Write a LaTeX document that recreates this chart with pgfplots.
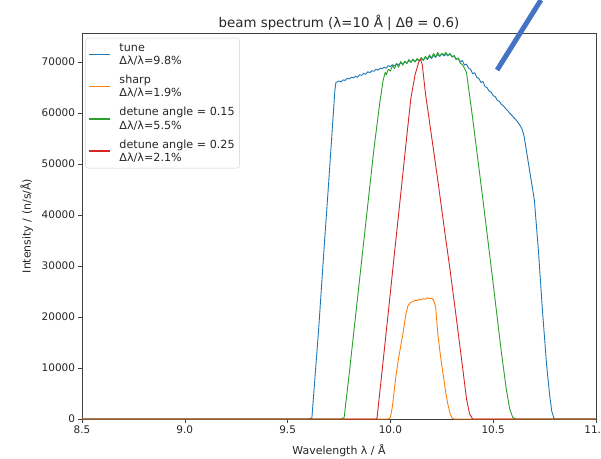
\documentclass[border=0pt]{standalone}
\usepackage{fontspec}
\setmainfont{DejaVu Sans}
\usepackage{pgfplots}
\pgfplotsset{compat=1.18}
\definecolor{tabblue}{HTML}{1F77B4}
\definecolor{taborange}{HTML}{FF7F0E}
\definecolor{tabgreen}{HTML}{2CA02C}
\definecolor{tabred}{HTML}{D62728}
\definecolor{annot}{HTML}{4472C4}
\begin{document}
\begin{tikzpicture}
\begin{axis}[
  at={(0bp,0bp)}, anchor=south west,
  scale only axis, width=514bp, height=386bp,
  xmin=8.5, xmax=11.0, ymin=0, ymax=75700,
  xtick={8.5,9.0,9.5,10.0,10.5,11.0},
  ytick={0,10000,20000,30000,40000,50000,60000,70000},
  xticklabel style={/pgf/number format/.cd,fixed,fixed zerofill,precision=1},
  yticklabel style={/pgf/number format/.cd,fixed,1000 sep={}},
  scaled ticks=false,
  /pgf/number format/assume math mode=true,
  tick align=outside, xtick pos=lower, ytick pos=left,
  major tick length=3.5bp,
  tick style={black!75, line width=0.6bp},
  axis line style={black!75, line width=0.7bp},
  ticklabel style={font=\fontsize{10.5}{12}\selectfont, text=black!85},
  label style={font=\fontsize{11}{13}\selectfont, text=black!85},
  xlabel={Wavelength λ / Å},
  xlabel style={yshift=-4bp},
  ylabel={Intensity / (n/s/Å)},
  ylabel style={yshift=2bp},
  title={beam spectrum (λ=10 Å | Δθ = 0.6)},
  title style={font=\fontsize{13.4}{15}\selectfont, text=black!85, yshift=-7bp},
  clip=false,
  legend cell align=left,
  legend style={at={(0,1)}, anchor=north west, xshift=3.5bp, yshift=-5bp,
    draw=black!18, rounded corners=2.5bp, fill=white, text=black!85,
    font=\fontsize{11.2}{13.5}\selectfont,
    cells={align=left}, row sep=5bp, inner sep=3bp},
  legend image code/.code={\draw[#1, line width=1.6bp] (0bp,0.25bp) -- (21bp,0.25bp); \path[draw=none,fill=none] (21bp,0bp) -- (28bp,0bp);},
  every axis plot/.append style={line width=0.9bp, line join=round},
]
\addplot[tabblue] coordinates {
(8.50,0) (9.60,0) (9.618,200) (9.65,17000) (9.68,35000) (9.70,46500) (9.72,58500)
(9.73,64500) (9.735,66000) (9.75,66300) (9.76,66100) (9.77,66500) (9.78,66400)
(9.79,66800) (9.80,66700) (9.81,67000) (9.82,66900) (9.83,67200) (9.84,67000)
(9.85,67500) (9.86,67400) (9.87,67800) (9.88,67600) (9.89,68100) (9.90,67900)
(9.91,68300) (9.92,68200) (9.93,68600) (9.94,68400) (9.95,68800) (9.96,68700)
(9.97,69000) (9.98,68800) (9.99,69300) (10.00,69100) (10.01,69500) (10.02,69200)
(10.03,69700) (10.04,69400) (10.05,69900) (10.06,69600) (10.07,70000) (10.08,69800)
(10.09,70300) (10.10,70000) (10.11,70400) (10.12,70100) (10.13,70500) (10.14,70300)
(10.15,70600) (10.16,70400) (10.17,70900) (10.18,70500) (10.19,71100) (10.20,70700)
(10.21,71300) (10.22,70900) (10.23,71500) (10.24,71100) (10.25,71600) (10.26,71200)
(10.27,71500) (10.28,71300) (10.29,71600) (10.30,71000) (10.31,71200) (10.32,70500)
(10.33,70800) (10.34,70000) (10.35,70300) (10.36,69400) (10.37,69600) (10.38,68800)
(10.39,68600) (10.40,67700) (10.41,67900) (10.42,67000) (10.43,66800) (10.44,66000)
(10.45,66200) (10.46,65200) (10.47,65000) (10.48,64300) (10.49,64100) (10.50,63400)
(10.51,63200) (10.52,62500) (10.53,62300) (10.54,61700) (10.55,61400) (10.56,60900)
(10.57,60500) (10.58,60000) (10.59,59600) (10.60,59100) (10.61,58700) (10.62,58200)
(10.63,57600) (10.64,56900) (10.65,55500) (10.66,53000) (10.67,50500) (10.68,48000)
(10.70,43000) (10.72,33000) (10.74,21000) (10.76,10500) (10.775,4500) (10.785,1500)
(10.795,200) (10.80,0) (11.00,0)
};
\addlegendentry{tune\\Δλ/λ=9.8\%}
\addplot[taborange] coordinates {
(8.50,0) (9.99,0) (10.00,300) (10.01,2500) (10.025,7800) (10.04,12000) (10.06,16500)
(10.075,20500) (10.085,22200) (10.10,22900) (10.11,23000) (10.12,23300) (10.13,23200)
(10.14,23500) (10.15,23400) (10.16,23600) (10.17,23500) (10.18,23800) (10.19,23600)
(10.20,23700) (10.21,23300) (10.22,22000) (10.23,17000) (10.24,13500) (10.25,10500)
(10.26,7800) (10.27,5000) (10.28,2800) (10.29,1100) (10.30,200) (10.31,0) (11.00,0)
};
\addlegendentry{sharp\\Δλ/λ=1.9\%}
\addplot[tabgreen] coordinates {
(8.50,0) (9.76,0) (9.775,300) (9.80,9000) (9.83,20000) (9.86,31000) (9.89,42000)
(9.92,53000) (9.95,62500) (9.965,66500) (9.975,68000) (9.98,67500) (9.99,68600)
(10.00,68200) (10.01,69300) (10.02,68700) (10.03,69700) (10.04,69000) (10.05,70100)
(10.06,69400) (10.07,70200) (10.08,69700) (10.09,70500) (10.10,69900) (10.11,70600)
(10.12,70000) (10.13,70700) (10.14,70200) (10.15,70900) (10.16,70300) (10.17,71100)
(10.18,70600) (10.19,71400) (10.20,70800) (10.21,71700) (10.22,71000) (10.23,71900)
(10.24,71200) (10.25,71700) (10.26,71400) (10.27,71900) (10.28,71200) (10.29,71700)
(10.30,71000) (10.31,71300) (10.32,70500) (10.33,70700) (10.34,69800) (10.35,69500)
(10.36,68800) (10.37,68000) (10.40,59000) (10.45,43000) (10.50,26500) (10.54,13000)
(10.565,5500) (10.58,2000) (10.595,300) (10.61,0) (11.00,0)
};
\addlegendentry{detune angle = 0.15\\Δλ/λ=5.5\%}
\addplot[tabred] coordinates {
(8.50,0) (9.93,0) (9.935,200) (9.96,9600) (9.99,21000) (10.02,32600) (10.05,44000)
(10.08,55600) (10.10,63000) (10.12,67500) (10.14,70300) (10.147,70500) (10.155,69500)
(10.17,64000) (10.20,55500) (10.23,47000) (10.26,38000) (10.29,29300) (10.32,20000)
(10.35,10500) (10.37,4000) (10.385,1000) (10.40,0) (11.00,0)
};
\addlegendentry{detune angle = 0.25\\Δλ/λ=2.1\%}
\draw[annot, line width=5bp] (axis cs:10.519,68440) -- (axis cs:10.732,82170);
\end{axis}
\pgfresetboundingbox
\path[use as bounding box] (-82bp,-40bp) rectangle (519bp,419bp);
\end{tikzpicture}
\end{document}
